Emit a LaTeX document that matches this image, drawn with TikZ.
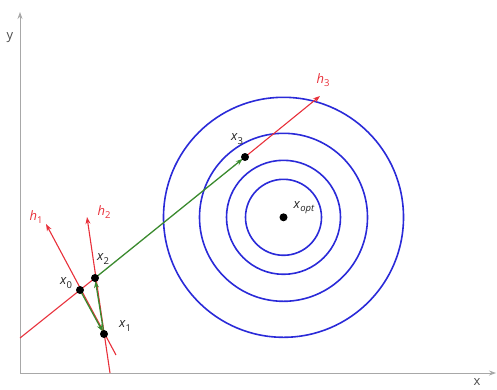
\documentclass[tikz,border=0pt]{standalone}
\usepackage{fontspec}
\setmainfont{Open Sans}
\usetikzlibrary{arrows.meta}
\newcommand{\lbl}[2]{\textit{#1}\raisebox{-0.45ex}{\fontsize{9.5}{10}\selectfont #2}}
\newcommand{\lbli}[2]{\textit{#1}\raisebox{-0.45ex}{\fontsize{9.5}{10}\selectfont\itshape #2}}
\definecolor{axisgray}{HTML}{A8A8A8}
\definecolor{hred}{HTML}{E8303A}
\definecolor{gstep}{HTML}{3A8A2E}
\definecolor{cblue}{HTML}{2A2AD8}
\definecolor{txtgray}{HTML}{222222}
\begin{document}
\begin{tikzpicture}[x=1pt,y=-1pt,
  axis/.style={draw=axisgray,line width=0.9pt,-{Stealth[length=7pt,width=5pt]}},
  redline/.style={draw=hred,line width=1.1pt},
  redarrow/.style={redline,-{Stealth[length=7pt,width=5pt]}},
  greenarrow/.style={draw=gstep,line width=1.3pt,-{Stealth[length=7pt,width=5pt]},shorten >=3pt},
  contour/.style={draw=cblue,line width=1.6pt},
  pt/.style={circle,fill=black,inner sep=0pt,minimum size=8pt},
  lab/.style={text=txtgray,font=\fontsize{13}{15}\selectfont,inner sep=0pt},
  hlab/.style={text=hred,font=\fontsize{13}{15}\selectfont,inner sep=0pt}]
\useasboundingbox (0,0) rectangle (497,389);
% axes
\coordinate (O) at (20,373);
\coordinate (ytop) at (20,12);
\coordinate (xend) at (496,373);
\draw[axis] (O) -- (ytop);
\draw[axis] (O) -- (xend);
\node[lab,text=black!70] (ylab) at (10,38) {y};
\node[lab,text=black!70] (xlab) at (477,382) {x};
% contours
\coordinate (xopt) at (283.5,217.3);
\foreach \r in {120,84,57,38} \draw[contour] (xopt) circle (\r);
% points
\coordinate (x0) at (80,290);
\coordinate (x1) at (104,334);
\coordinate (x2) at (95,278);
\coordinate (x3) at (245,157);
\coordinate (l0) at (20,338);
\coordinate (h1end) at (116,355);
\coordinate (h1tip) at (46,224);
\coordinate (h2end) at (110,373);
\coordinate (h2tip) at (87,217);
\coordinate (h3tip) at (320,96);
% red lines
\draw[redline] (l0) -- (x2);
\draw[redarrow] (h1end) -- (h1tip);
\draw[redarrow] (h2end) -- (h2tip);
\draw[redarrow] (x3) -- (h3tip);
% green steps
\draw[greenarrow] (x0) -- (x1);
\draw[greenarrow] (x1) -- (x2);
\draw[greenarrow] (x2) -- (x3);
% dots
\node[pt] (p0) at (x0) {};
\node[pt] (p1) at (x1) {};
\node[pt] (p2) at (x2) {};
\node[pt] (p3) at (x3) {};
\node[pt] (popt) at (xopt) {};
% labels
\node[hlab] (lh1) at (36,217) {\lbl{h}{1}};
\node[hlab] (lh2) at (104,212) {\lbl{h}{2}};
\node[hlab] (lh3) at (323,80) {\lbl{h}{3}};
\node[lab] (lx0) at (66,283) {\lbl{x}{0}};
\node[lab] (lx1) at (125,326) {\lbl{x}{1}};
\node[lab] (lx2) at (103,259) {\lbl{x}{2}};
\node[lab] (lx3) at (237,139) {\lbl{x}{3}};
\node[lab] (lxopt) at (304,208) {\lbli{x}{opt}};
\end{tikzpicture}
\end{document}
